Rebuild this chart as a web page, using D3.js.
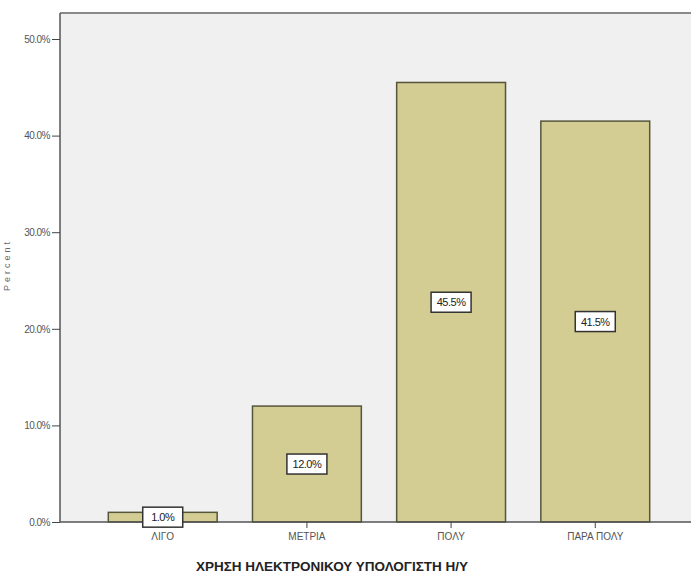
<!DOCTYPE html>
<html>
<head>
<meta charset="utf-8">
<script src="https://cdn.jsdelivr.net/npm/d3@7"></script>
<style>
html,body{margin:0;padding:0;background:#fff;}
svg{display:block;}
</style>
</head>
<body>
<svg id="chart" width="691" height="576"></svg>
<script>
const categories = ["ΛΙΓΟ", "ΜΕΤΡΙΑ", "ΠΟΛΥ", "ΠΑΡΑ ΠΟΛΥ"];
const values = [1.0, 12.0, 45.5, 41.5];
const yTicks = [0, 10, 20, 30, 40, 50];
const xTitle = "ΧΡΗΣΗ ΗΛΕΚΤΡΟΝΙΚΟΥ ΥΠΟΛΟΓΙΣΤΗ Η/Υ";
const yTitle = "Percent";

const svg = d3.select("#chart");
const frame = {left: 60, top: 13, right: 700, bottom: 522};

const x = d3.scaleBand().domain(categories).range([91, 667]).paddingInner(0.245).paddingOuter(0.12);
const y = d3.scaleLinear().domain([0, 50]).range([522, 39]);

// plot background
svg.append("rect")
  .attr("x", frame.left).attr("y", frame.top)
  .attr("width", frame.right - frame.left).attr("height", frame.bottom - frame.top)
  .attr("fill", "#f0f0f0");

// frame top line
svg.append("line")
  .attr("x1", frame.left).attr("x2", frame.right)
  .attr("y1", frame.top).attr("y2", frame.top)
  .attr("stroke", "#8a8a8a").attr("stroke-width", 2);

// bars
svg.append("g").selectAll("rect").data(values).join("rect")
  .attr("x", (d, i) => x(categories[i]))
  .attr("y", d => y(d))
  .attr("width", x.bandwidth())
  .attr("height", d => y(0) - y(d))
  .attr("fill", "#d3cd94")
  .attr("stroke", "#55553c")
  .attr("stroke-width", 1.5);

// y axis
const yAxis = svg.append("g")
  .attr("transform", `translate(${frame.left},0)`)
  .call(d3.axisLeft(y).tickValues(yTicks).tickSize(8).tickPadding(2).tickFormat(d => d.toFixed(1) + "%"));
yAxis.select(".domain").attr("stroke", "#555").attr("stroke-width", 1.5)
  .attr("d", `M0,${frame.top}V${frame.bottom}`);
yAxis.selectAll(".tick line").attr("stroke", "#444");
yAxis.selectAll(".tick text").attr("fill", "#555").style("font-family", "Liberation Sans, Arial, sans-serif").style("font-size", "10px").style("letter-spacing", "-0.5px");

// x axis
const xAxis = svg.append("g")
  .attr("transform", `translate(0,${frame.bottom})`)
  .call(d3.axisBottom(x).tickSize(6).tickPadding(5));
xAxis.select(".domain").attr("stroke", "#555").attr("stroke-width", 1.5)
  .attr("d", `M${frame.left},0H${frame.right}`);
xAxis.selectAll(".tick line").attr("stroke", "#444");
xAxis.selectAll(".tick text").attr("fill", "#555").style("font-family", "Liberation Sans, Arial, sans-serif").style("font-size", "10px");

// value labels
const lbl = svg.append("g").selectAll("g").data(values).join("g")
  .attr("transform", (d, i) => `translate(${x(categories[i]) + x.bandwidth() / 2},${(y(d) + y(0)) / 2})`);
lbl.append("rect")
  .attr("x", -20).attr("y", -10).attr("width", 40).attr("height", 20)
  .attr("fill", "#fff").attr("stroke", "#333").attr("stroke-width", 1.5);
lbl.append("text")
  .attr("text-anchor", "middle").attr("dy", "0.36em")
  .attr("fill", "#222")
  .style("font-family", "Liberation Sans, Arial, sans-serif").style("font-size", "11px").style("letter-spacing", "-0.5px")
  .text(d => d.toFixed(1) + "%");

// axis titles
svg.append("text")
  .attr("x", 332).attr("y", 571)
  .attr("text-anchor", "middle")
  .attr("fill", "#222")
  .style("font-family", "Liberation Sans, Arial, sans-serif").style("font-size", "13.5px").style("font-weight", "bold")
  .text(xTitle);

svg.append("text")
  .attr("transform", "translate(10,265) rotate(-90)")
  .attr("text-anchor", "middle")
  .attr("fill", "#666")
  .style("font-family", "Liberation Sans, Arial, sans-serif").style("font-size", "9px").style("letter-spacing", "3px")
  .text(yTitle);
</script>
</body>
</html>
